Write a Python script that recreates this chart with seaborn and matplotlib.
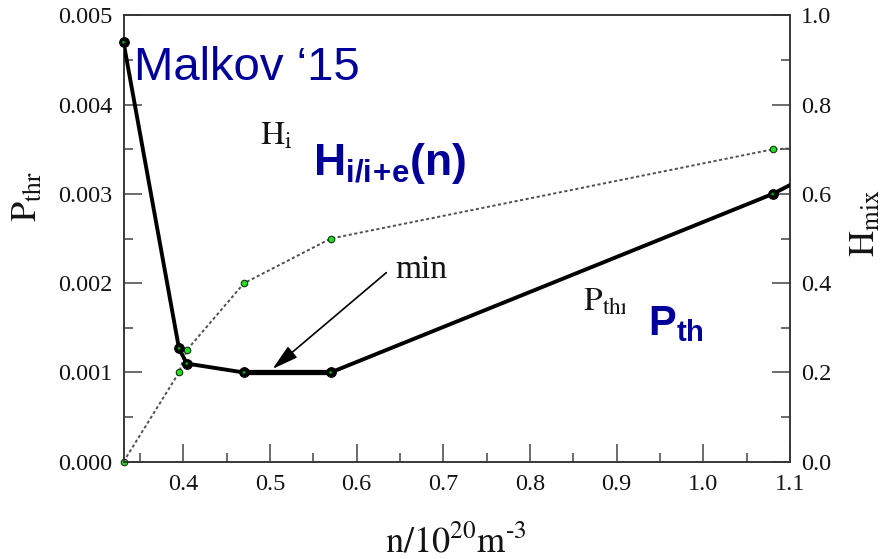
import numpy as np
import matplotlib
matplotlib.use("Agg")
import matplotlib.pyplot as plt
import seaborn as sns

# Threshold power P_thr (left axis) and mixing parameter H_mix (right axis) vs density
density_p = [0.331, 0.395, 0.404, 0.47, 0.57, 1.08, 1.10]
p_thr = [0.0047, 0.00127, 0.00110, 0.00100, 0.00100, 0.00300, 0.00310]
density_h = [0.331, 0.395, 0.404, 0.47, 0.57, 1.08, 1.10]
h_mix = [0.0, 0.20, 0.25, 0.40, 0.50, 0.70, 0.702]
n_marked = 6  # the last point of each series only carries the line to the frame

x_ticks = [0.4, 0.5, 0.6, 0.7, 0.8, 0.9, 1.0, 1.1]
p_ticks = [0.000, 0.001, 0.002, 0.003, 0.004, 0.005]
h_ticks = [0.0, 0.2, 0.4, 0.6, 0.8, 1.0]

sns.set_theme(style="ticks")
plt.rcParams["font.family"] = ["Liberation Serif", "DejaVu Serif"]
plt.rcParams["mathtext.fontset"] = "custom"
plt.rcParams["mathtext.rm"] = "Liberation Sans"
plt.rcParams["mathtext.bf"] = "Liberation Sans:bold"
plt.rcParams["mathtext.it"] = "Liberation Sans:italic"

BLUE = "#000099"
INK = "#141414"
SPINE = "#333333"

fig = plt.figure(figsize=(8.86, 5.59), dpi=100)
ax = fig.add_axes([0.1394, 0.174, 0.7522, 0.7983])
ax2 = ax.twinx()

# H_mix: thin dotted line with green dots (right axis)
sns.lineplot(x=density_h, y=h_mix, ax=ax2, color="#505050", lw=1.4,
             dashes=False, sort=False, estimator=None, zorder=2)
ax2.lines[-1].set_dashes((1.6, 1.3))
sns.scatterplot(x=density_h[:n_marked], y=h_mix[:n_marked], ax=ax2, s=22,
                color="#22dd22", edgecolor="#113311", linewidth=0.8,
                clip_on=False, zorder=4)

# P_thr: thick black line with black dots (left axis)
sns.lineplot(x=density_p, y=p_thr, ax=ax, color="black", lw=2.8,
             sort=False, estimator=None, zorder=3)
p_min = min(p_thr)
flat = [i for i, v in enumerate(p_thr) if v == p_min]
sns.lineplot(x=[density_p[i] for i in flat], y=[p_thr[i] for i in flat], ax=ax,
             color="black", lw=3.8, sort=False, estimator=None, zorder=3)
sns.scatterplot(x=density_p[:n_marked], y=p_thr[:n_marked], ax=ax, s=48,
                color="black", edgecolor="black", linewidth=0.8,
                clip_on=False, zorder=5)
sns.scatterplot(x=density_p[:n_marked], y=p_thr[:n_marked], ax=ax, s=4,
                color="#00b000", edgecolor="none", clip_on=False, zorder=6)

# the right axes sits on top; let the left axes' marks stay visible
ax.set_zorder(ax2.get_zorder() + 1)
ax.patch.set_visible(False)

# axes limits and ticks
ax.set_xlim(0.331, 1.1)
ax.set_ylim(0, 0.005)
ax2.set_ylim(0, 1.0)
ax.set_xticks(x_ticks)
ax.set_xticklabels([f"{v:.1f}" for v in x_ticks])
ax.set_xticks(np.arange(0.35, 1.1, 0.1), minor=True)
ax.set_yticks(p_ticks)
ax.set_yticklabels([f"{v:.3f}" for v in p_ticks])
ax.set_yticks(np.arange(0.0005, 0.005, 0.001), minor=True)
ax2.set_yticks(h_ticks)
ax2.set_yticklabels([f"{v:.1f}" for v in h_ticks])
ax2.set_yticks(np.arange(0.1, 1.0, 0.2), minor=True)

for a in (ax, ax2):
    a.tick_params(which="major", direction="in", length=13, width=1.1,
                  color="#444444", labelsize=17.5, labelcolor=INK)
    a.tick_params(which="minor", direction="in", length=6.5, width=1.1,
                  color="#444444")
    for s in a.spines.values():
        s.set_color(SPINE)
        s.set_linewidth(1.1)
    a.grid(False)
ax.tick_params(axis="x", which="both", top=False, bottom=True, pad=9)
ax.tick_params(axis="y", which="both", left=True, right=False, pad=8)
ax2.tick_params(axis="y", which="both", left=False, right=True, pad=8)
for lab in ax.get_xticklabels() + ax.get_yticklabels() + ax2.get_yticklabels():
    lab.set_fontfamily("Liberation Serif")

# axis titles
ax.set_ylabel(r"$\mathrm{P_{thr}}$", fontsize=26, color=INK,
              math_fontfamily="stix", va="center", ha="center")
ax.yaxis.set_label_coords(-0.143, 0.595)
ax2.set_ylabel(r"$\mathrm{H_{mix}}$", fontsize=26, color=INK,
               math_fontfamily="stix", va="center", ha="center", rotation=90)
ax2.yaxis.set_label_coords(1.115, 0.535)
ax.set_xlabel("$\\mathrm{n/10^{20}m^{\u20103}}$", fontsize=26, color=INK,
              math_fontfamily="stix", va="baseline")
ax.xaxis.set_label_coords(0.499, -0.2024)

# annotations inside the frame
ax.text(0.0158, 0.8555, "Malkov \u201815", transform=ax.transAxes,
        fontsize=34, color=BLUE, fontfamily="Liberation Sans",
        va="baseline", ha="left", zorder=7)
ax.text(0.2048, 0.7098, r"$\mathrm{H_i}$", transform=ax.transAxes,
        fontsize=24, color=INK, math_fontfamily="stix",
        va="baseline", ha="left")
ax.text(0.2843, 0.6425, r"$\mathbf{H_{i/i\!+\!e}(n)}$", transform=ax.transAxes,
        fontsize=32, color=BLUE, va="baseline", ha="left")
ax.text(0.6893, 0.340, r"$\mathrm{P_{thr}}$", transform=ax.transAxes,
        fontsize=24, color=INK, math_fontfamily="stix",
        va="baseline", ha="left")
ax.text(0.787, 0.284, r"$\mathbf{P_{th}}$", transform=ax.transAxes,
        fontsize=30, color=BLUE, va="baseline", ha="left",
        bbox=dict(facecolor="white", edgecolor="none",
                  boxstyle="square,pad=0.56"))

ax.annotate("min", xy=(0.503, 0.00104), xytext=(0.4073, 0.4113),
            xycoords="data", textcoords="axes fraction",
            fontsize=24, color=INK, va="baseline", ha="left",
            arrowprops=dict(arrowstyle="-|>,head_length=0.8,head_width=0.22",
                            mutation_scale=20, lw=1.2, color="black",
                            relpos=(0.0, 0.65), shrinkA=5, shrinkB=0))

fig.savefig("out.png", dpi=100, facecolor="white")
